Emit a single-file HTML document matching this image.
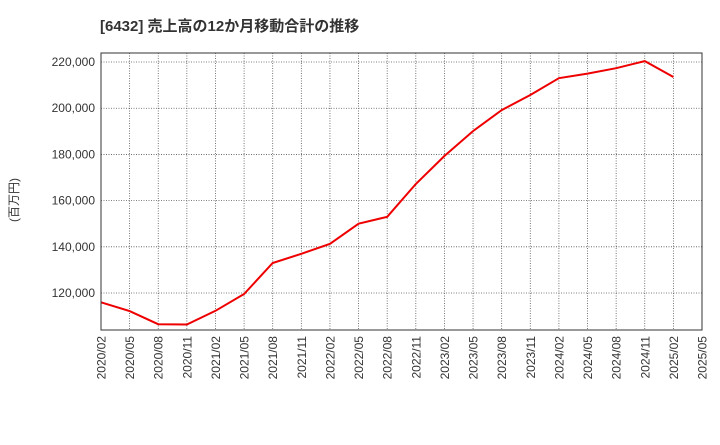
<!DOCTYPE html>
<html><head><meta charset="utf-8"><style>
body{margin:0;background:#fff;}
svg text{font-family:"Liberation Sans","Noto Sans CJK JP",sans-serif;}
</style></head><body>
<svg id="chart" width="720" height="440" xmlns="http://www.w3.org/2000/svg">
<text x="100" y="31" font-size="15" font-weight="bold" fill="#333">[6432]  売上高の12か月移動合計の推移</text>
<text transform="translate(18,200) rotate(-90)" text-anchor="middle" font-size="12" fill="#333">(百万円)</text>
<g id="grid"></g><g id="axes"></g><g id="series"></g>
<rect x="101" y="53" width="601" height="277" fill="none" stroke="#333" stroke-width="1"/>
</svg>
<script>
const xLabels=["2020/02","2020/05","2020/08","2020/11","2021/02","2021/05","2021/08","2021/11","2022/02","2022/05","2022/08","2022/11","2023/02","2023/05","2023/08","2023/11","2024/02","2024/05","2024/08","2024/11","2025/02","2025/05"];
const values=[116000,112200,106500,106400,112300,119600,133000,137000,141300,150000,153000,167200,179300,190100,199200,205700,213000,215000,217300,220400,213500];
const yTicks=[120000,140000,160000,180000,200000,220000];
const yTickLabels=["120,000","140,000","160,000","180,000","200,000","220,000"];
const NS="http://www.w3.org/2000/svg";
const L=101,R=702,T=53,B=330,yMin=104000,yMax=223900;
const xs=i=>L+(R-L)*i/(xLabels.length-1);
const ys=v=>B-(v-yMin)/(yMax-yMin)*(B-T);
const grid=document.getElementById('grid'),axes=document.getElementById('axes'),series=document.getElementById('series');
function mk(t,a){const e=document.createElementNS(NS,t);for(const k in a)e.setAttribute(k,a[k]);return e;}
xLabels.forEach((lab,i)=>{
 const x=xs(i);
 const g=mk('line',{x1:x,x2:x,y1:T,y2:B,stroke:'#555','stroke-width':0.8,'stroke-dasharray':'1,1.5'});
 
 
 grid.appendChild(g);
 const t=mk('text',{transform:`translate(${x+4.5},${B+6}) rotate(-90)`,'text-anchor':'end','font-size':12,fill:'#333'});
 t.textContent=lab;
 
 
 axes.appendChild(t);
});
yTicks.forEach((v,i)=>{
 const y=ys(v);
 const g=mk('line',{x1:L,x2:R,y1:y,y2:y,stroke:'#555','stroke-width':0.8,'stroke-dasharray':'1,1.5'});
 
 
 grid.appendChild(g);
 const t=mk('text',{x:L-6,y:y+4,'text-anchor':'end','font-size':12,fill:'#333'});
 t.textContent=yTickLabels[i];
 
 
 axes.appendChild(t);
});
const pts=values.map((v,i)=>xs(i).toFixed(1)+','+ys(v).toFixed(1)).join(' ');
const line=mk('polyline',{points:pts,fill:'none',stroke:'#ee0000','stroke-width':2});


series.appendChild(line);
</script>
</body></html>
